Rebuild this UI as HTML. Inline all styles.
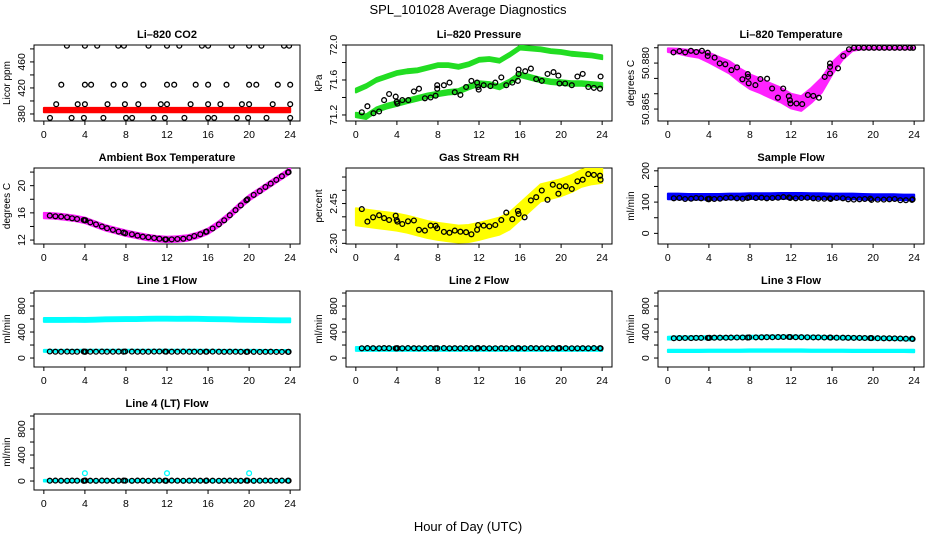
<!DOCTYPE html>
<html><head><meta charset="utf-8">
<style>
html,body{margin:0;padding:0;background:#fff;}
svg{display:block;font-family:"Liberation Sans",Arial,sans-serif;}
</style></head>
<body>
<svg id="chart" width="936" height="540" viewBox="0 0 936 540" xmlns="http://www.w3.org/2000/svg">
<text x="468" y="14" text-anchor="middle" font-size="13">SPL_101028  Average Diagnostics</text>
<text x="468" y="531" text-anchor="middle" font-size="13">Hour of Day (UTC)</text>
</svg>
<script>
// ---------- shared data ----------
const xTicks = [0,4,8,12,16,20,24];
const bandHours = [0,1,2,3,4,5,6,7,8,9,10,11,12,13,14,15,16,17,18,19,20,21,22,23,24];
const sampleHours = [0.58,1.13,1.68,2.27,2.75,3.24,3.88,3.98,4.05,4.53,5.08,5.66,6.15,6.73,7.28,7.77,7.93,8.58,9.13,9.64,10.19,10.74,11.26,11.81,11.91,12.46,13.01,13.59,14.17,14.66,15.24,15.79,15.86,16.44,17.06,17.57,18.12,18.67,19.19,19.74,19.84,20.45,21.04,21.59,22.10,22.65,23.20,23.79,23.85];

// CO2
const co2Hours = [2.25,4.0,5.2,7.25,7.8,10.2,12.0,13.2,15.4,16.0,18.3,20.0,21.2,23.4,23.9, 1.7,4.0,4.6,6.8,7.9,9.7,12.0,12.7,14.8,16.0,17.8,20.0,20.7,22.8,24.0, 1.2,3.3,4.0,6.2,7.9,9.2,11.4,12.0,14.3,16.0,17.2,19.3,20.0,22.3,24.0, 0.6,2.7,3.9,5.8,8.0,8.6,10.7,11.8,13.7,16.0,16.6,18.8,19.9,21.7,24.0];
const co2Values = [485,485,485,485,485,485,485,485,485,485,485,485,485,485,485, 425,425,425,425,425,425,425,425,425,425,425,425,425,425,425, 395,395,395,395,395,395,395,395,395,395,395,395,395,395,395, 374,374,374,374,374,374,374,374,374,374,374,374,374,374,374];
const co2Band = [386,386,386,386,386,386,386,386,386,386,386,386,386,386,386,386,386,386,386,386,386,386,386,386,386];

// Pressure
const presHours = [0.58,1.13,1.72,2.27,2.75,3.24,3.88,3.98,4.05,4.53,5.11,5.66,6.15,6.73,7.28,7.77,7.93,7.93,8.58,9.13,9.64,10.19,10.74,11.26,11.81,11.91,11.97,12.46,13.11,13.59,14.17,14.66,15.24,15.79,15.86,15.86,16.50,17.06,17.57,18.12,18.67,19.26,19.74,19.84,20.39,21.04,21.59,22.10,22.65,23.20,23.79,23.85];
const presValues = [71.23,71.30,71.22,71.24,71.37,71.44,71.41,71.35,71.33,71.37,71.37,71.47,71.50,71.39,71.40,71.42,71.54,71.50,71.54,71.57,71.46,71.43,71.52,71.59,71.57,71.52,71.49,71.54,71.53,71.57,71.63,71.54,71.57,71.59,71.67,71.72,71.70,71.73,71.61,71.59,71.67,71.69,71.65,71.56,71.56,71.54,71.64,71.67,71.52,71.51,71.50,71.64];
const presUpper = [71.48,71.53,71.60,71.64,71.68,71.70,71.71,71.74,71.77,71.77,71.75,71.78,71.83,71.84,71.82,71.89,71.97,71.96,71.95,71.93,71.92,71.90,71.89,71.88,71.86];
const presLower = [71.20,71.18,71.26,71.30,71.33,71.36,71.39,71.42,71.44,71.46,71.47,71.52,71.56,71.55,71.52,71.58,71.66,71.63,71.60,71.58,71.57,71.56,71.56,71.55,71.54];

// Li-820 temperature
const tempHours = [0.55,1.14,1.69,2.25,2.77,3.32,3.88,3.88,4.56,5.05,5.60,6.19,6.74,7.26,7.79,7.88,7.82,8.53,9.02,9.67,10.16,10.72,11.24,11.79,11.89,11.95,12.54,13.09,13.65,14.17,14.72,15.28,15.80,15.80,15.80,16.58,17.10,17.65,18.14,18.6,19.1,19.6,20.1,20.6,21.1,21.6,22.1,22.6,23.1,23.6,23.9];
const tempValues = [50.8835,50.8839,50.8835,50.8840,50.8836,50.8840,50.8834,50.8823,50.8818,50.8799,50.8796,50.8777,50.8786,50.8747,50.8764,50.8734,50.8755,50.8728,50.8748,50.8749,50.8717,50.8687,50.8717,50.8692,50.8679,50.8668,50.8668,50.8666,50.8696,50.8693,50.8687,50.8755,50.8788,50.8799,50.8766,50.8783,50.8823,50.8845,50.8850,50.8850,50.8850,50.8850,50.8850,50.8850,50.8850,50.8850,50.8850,50.8850,50.8850,50.8850,50.8850];
const tempBand = [50.8842,50.8839,50.8833,50.8830,50.8818,50.8802,50.8786,50.8761,50.8739,50.8726,50.8710,50.8696,50.8676,50.8668,50.8695,50.8728,50.8782,50.8822,50.8845,50.8848,50.8848,50.8848,50.8848,50.8848,50.8848];
const tempSpread = [0.0006,0.0008,0.0010,0.0012,0.0016,0.0018,0.0020,0.0022,0.0024,0.0024,0.0024,0.0024,0.0024,0.0024,0.0024,0.0024,0.0020,0.0012,0.0005,0.0003,0.0003,0.0003,0.0003,0.0003,0.0003];

// Ambient box temperature
const ambValues = [15.6,15.5,15.45,15.35,15.2,15.1,14.95,14.9,14.9,14.6,14.3,14.0,13.75,13.5,13.25,13.1,13.0,12.85,12.65,12.5,12.4,12.3,12.2,12.1,12.1,12.1,12.15,12.2,12.35,12.6,12.85,13.2,13.25,13.7,14.3,14.9,15.65,16.4,17.1,17.85,18.0,18.65,19.2,19.8,20.3,20.85,21.4,21.95,22.0];
const ambBand = [15.6,15.55,15.4,15.2,14.9,14.35,13.8,13.4,13.0,12.7,12.4,12.2,12.1,12.15,12.3,12.7,13.3,14.3,15.5,16.9,18.2,19.2,20.2,21.2,22.2];

// Gas stream RH
const rhValues = [2.429,2.382,2.398,2.406,2.395,2.388,2.404,2.388,2.382,2.373,2.383,2.386,2.351,2.348,2.367,2.366,2.357,2.343,2.340,2.348,2.344,2.342,2.334,2.351,2.369,2.367,2.364,2.369,2.388,2.416,2.391,2.422,2.411,2.398,2.462,2.474,2.499,2.464,2.521,2.487,2.515,2.515,2.505,2.534,2.540,2.561,2.558,2.555,2.540];
const rhBand = [2.400,2.395,2.390,2.385,2.380,2.372,2.362,2.352,2.345,2.340,2.335,2.337,2.345,2.355,2.365,2.385,2.420,2.455,2.490,2.500,2.510,2.525,2.545,2.555,2.560];

// Sample flow
const sampleFlowValues = [112,113,110,111,113,112,110,109,111,110,111,113,114,112,111,113,115,113,114,112,113,114,116,115,113,112,113,114,112,111,111,112,110,113,112,109,108,109,110,111,107,108,108,109,110,106,106,107,109];
const sampleFlowBand = [118,118,117,117,117,117,118,118,119,119,119,120,120,120,119,119,118,118,118,117,116,116,116,115,115];

// Line flows
const line1Values = [100,98,97,99,98,97,99,96,98,97,98,99,98,97,99,98,100,99,98,97,98,99,100,99,98,97,98,99,97,98,96,97,98,99,97,96,97,98,96,95,97,96,95,96,97,95,94,95,96];
const line1Upper = [585,585,585,588,585,590,595,598,600,600,602,605,605,603,605,603,600,598,595,590,588,585,583,580,580];
const line1Lower = [110,110,110,110,112,112,112,112,112,112,112,112,112,112,112,112,110,110,110,110,110,110,108,108,108];
const line2Values = [150,152,151,150,152,151,150,149,151,150,152,151,150,151,152,150,151,152,150,151,150,152,151,150,152,151,150,149,151,150,152,150,151,150,152,151,150,149,151,150,152,151,150,149,151,150,152,151,150];
const line2Band = [140,140,140,140,140,140,140,140,140,140,140,140,140,140,140,140,140,140,140,140,140,140,140,140,140];
const line3Values = [305,306,308,307,309,310,310,309,311,312,313,312,314,315,316,314,318,317,319,320,321,322,323,324,322,321,320,319,318,317,316,315,314,313,312,311,310,309,308,307,306,305,304,303,302,300,298,297,292];
const line3Upper = [305,310,310,312,312,315,315,318,320,322,325,325,325,322,320,318,315,312,310,308,305,303,300,295,290];
const line3Lower = [110,110,110,110,112,112,112,112,115,115,115,115,115,115,112,112,112,112,110,110,110,110,110,110,108];
const line4Values = [5,6,5,4,6,5,4,5,6,5,4,6,5,4,5,6,5,4,6,5,4,5,6,5,4,6,5,4,5,6,5,4,6,5,4,5,6,5,4,6,5,4,5,6,5,4,6,5,5];
const line4Band = [5,5,5,5,5,5,5,5,5,5,5,5,5,5,5,5,5,5,5,5,5,5,5,5,5];
const line4OutlierHours = [4,12,20];
const line4OutlierValues = [120,120,120];

const flowTicks = [0,200,400,600,800,1000];
const flowLabels = [0,400,800];

// ---------- drawing ----------
const svg = document.getElementById('chart');
const NS = 'http://www.w3.org/2000/svg';
function mk(tag, attrs, parent){
  const e = document.createElementNS(NS, tag);
  for (const k in attrs) e.setAttribute(k, attrs[k]);
  (parent||svg).appendChild(e);
  return e;
}

function makePanel(col,row,name,title,ylab,ymin,ymax,yticks,ylabels,labelFmt){
  const x0 = 34 + 312*col, y0 = 45 + 123*row, w = 266, h = 76;
  const g = mk('g',{});
  
  
  const xs = v => x0 + 9.85 + v*(w-19.7)/24;
  const ys = v => y0 + h - (v - ymin)/(ymax - ymin)*h;
  const t = mk('text',{x:x0+w/2,y:y0-7,'text-anchor':'middle','font-size':'11','font-weight':'bold'},g);
  t.textContent = title;
  
  
  const box = mk('rect',{x:x0,y:y0,width:w,height:h,fill:'none',stroke:'#000','stroke-width':1},g);
  
  
  xTicks.forEach(v=>{
    const x = xs(v);
    mk('line',{x1:x,x2:x,y1:y0+h,y2:y0+h+4,stroke:'#000'},g);
    const l = mk('text',{x:x,y:y0+h+17,'text-anchor':'middle','font-size':'10.5'},g);
    l.textContent = v;
    
    
  });
  yticks.forEach(v=>{
    const y = ys(v);
    mk('line',{x1:x0-4,x2:x0,y1:y,y2:y,stroke:'#000'},g);
  });
  ylabels.forEach(v=>{
    const y = ys(v);
    const l = mk('text',{x:0,y:0,'text-anchor':'middle','font-size':'10.5',transform:`translate(${x0-9},${y}) rotate(-90)`},g);
    l.textContent = labelFmt ? labelFmt(v) : v;
    
    
  });
  const yl = mk('text',{x:0,y:0,'text-anchor':'middle','font-size':'10',transform:`translate(${x0-24},${y0+h/2}) rotate(-90)`},g);
  yl.textContent = ylab;
  
  
  const clip = 'clip'+name;
  const cp = mk('clipPath',{id:clip},g);
  mk('rect',{x:x0,y:y0,width:w,height:h},cp);
  const marks = mk('g',{'clip-path':`url(#${clip})`},g);
  return {xs,ys,g:marks};
}

function band(p, hours, upper, lower, color){
  let pts = [];
  hours.forEach((hh,i)=>pts.push(p.xs(hh).toFixed(1)+','+p.ys(upper[i]).toFixed(1)));
  for (let i=hours.length-1;i>=0;i--) pts.push(p.xs(hours[i]).toFixed(1)+','+p.ys(lower[i]).toFixed(1));
  const e = mk('polygon',{points:pts.join(' '),fill:color,stroke:color,'stroke-width':2,'stroke-linejoin':'round'},p.g);
  
  
}
function bandC(p, hours, center, spread, color){
  const up = center.map((c,i)=>c + (Array.isArray(spread)?spread[i]:spread));
  const lo = center.map((c,i)=>c - (Array.isArray(spread)?spread[i]:spread));
  band(p,hours,up,lo,color);
}
function points(p, hours, vals, color){
  hours.forEach((hh,i)=>{
    const c = mk('circle',{cx:p.xs(hh).toFixed(1),cy:p.ys(vals[i]).toFixed(1),r:2.4,fill:'none',stroke:color||'#000','stroke-width':1.3},p.g);
    
    
  });
}

// Panel 1: CO2
let p = makePanel(0,0,'co2-panel','Li\u2013820 CO2','Licor ppm',369.2,486,[380,400,420,440,460,480],[380,420,460]);
bandC(p,bandHours,co2Band,3.3,'#ff0000');
points(p,co2Hours,co2Values);

// Panel 2: Pressure
p = makePanel(1,0,'pressure-panel','Li\u2013820 Pressure','kPa',71.131,72.0,[71.2,71.4,71.6,71.8,72.0],[71.2,71.6,72.0],v=>v.toFixed(1));
bandC(p,bandHours,presUpper,0.022,'#22dd22');
bandC(p,bandHours,presLower,0.026,'#22dd22');
points(p,presHours,presValues);

// Panel 3: Li-820 temperature
p = makePanel(2,0,'li820-temp-panel','Li\u2013820 Temperature','degrees C',50.8611,50.8859,[50.865,50.870,50.875,50.880,50.885],[50.865,50.880],v=>v.toFixed(3));
bandC(p,bandHours,tempBand,tempSpread,'#ff22ff');
points(p,tempHours,tempValues);

// Panel 4: ambient box
p = makePanel(0,1,'ambient-temp-panel','Ambient Box Temperature','degrees C',11.42,22.6,[12,14,16,18,20,22],[12,16,20]);
bandC(p,bandHours,ambBand,0.4,'#ff22ff');
points(p,sampleHours,ambValues);

// Panel 5: RH
p = makePanel(1,1,'rh-panel','Gas Stream RH','percent',2.2975,2.584,[2.30,2.35,2.40,2.45,2.50,2.55],[2.30,2.45],v=>v.toFixed(2));
bandC(p,bandHours,rhBand,0.032,'#ffff00');
points(p,sampleHours,rhValues);

// Panel 6: sample flow
p = makePanel(2,1,'sample-flow-panel','Sample Flow','ml/min',-34,209,[0,50,100,150,200],[0,100,200]);
bandC(p,bandHours,sampleFlowBand,9,'#0000ff');
points(p,sampleHours,sampleFlowValues);

// Panel 7: line 1
p = makePanel(0,2,'line1-flow-panel','Line 1 Flow','ml/min',-138,1031,flowTicks,flowLabels);
bandC(p,bandHours,line1Upper,30,'#00ffff');
bandC(p,bandHours,line1Lower,15,'#00ffff');
points(p,sampleHours,line1Values);

// Panel 8: line 2
p = makePanel(1,2,'line2-flow-panel','Line 2 Flow','ml/min',-138,1031,flowTicks,flowLabels);
bandC(p,bandHours,line2Band,30,'#00ffff');
points(p,sampleHours,line2Values);

// Panel 9: line 3
p = makePanel(2,2,'line3-flow-panel','Line 3 Flow','ml/min',-138,1031,flowTicks,flowLabels);
bandC(p,bandHours,line3Upper,22,'#00ffff');
bandC(p,bandHours,line3Lower,18,'#00ffff');
points(p,sampleHours,line3Values);

// Panel 10: line 4
p = makePanel(0,3,'line4-flow-panel','Line 4 (LT) Flow','ml/min',-138,1031,flowTicks,flowLabels);
bandC(p,bandHours,line4Band,12,'#00ffff');
points(p,line4OutlierHours,line4OutlierValues,'#00ffff');
points(p,sampleHours,line4Values);
</script>
</body></html>
